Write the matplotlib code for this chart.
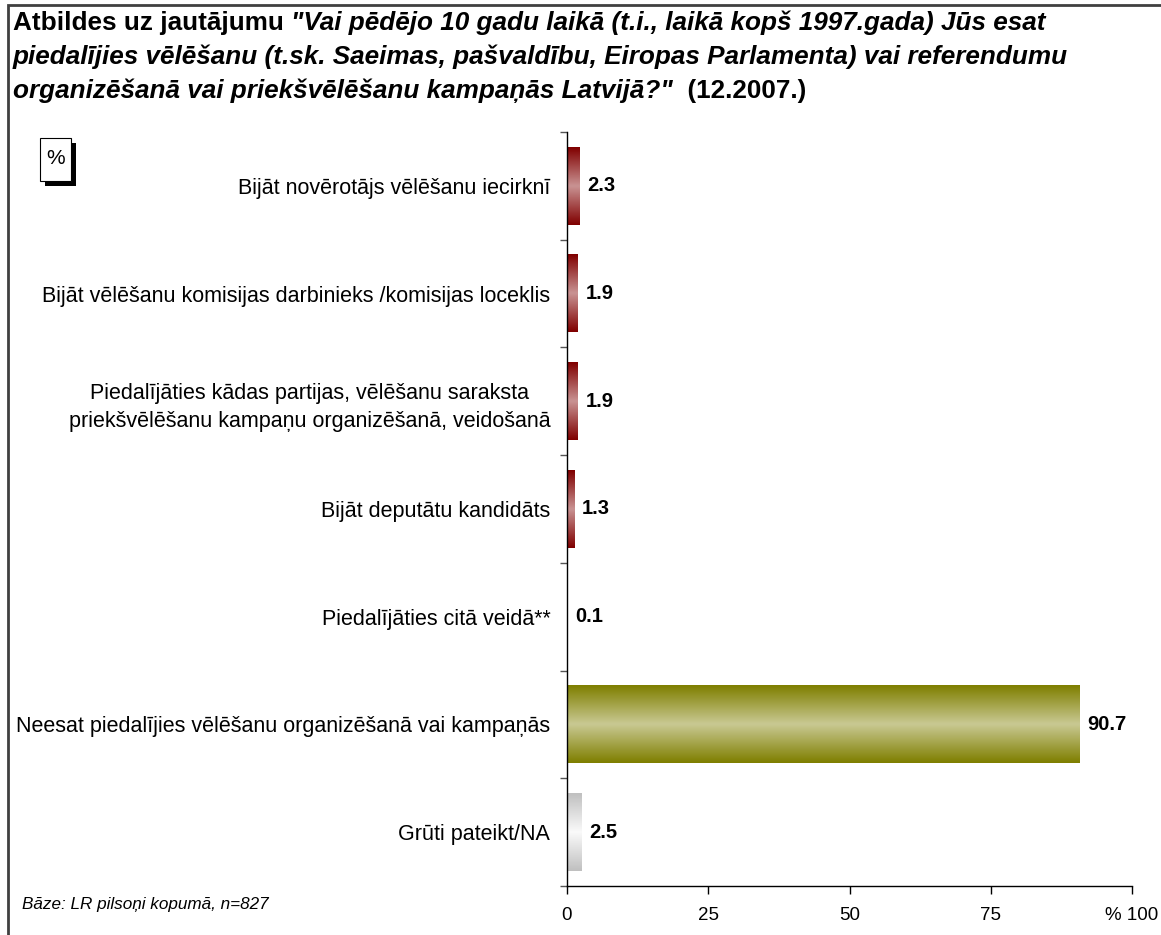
import numpy as np
import matplotlib
matplotlib.use('Agg')
import matplotlib.pyplot as plt
from matplotlib.colors import LinearSegmentedColormap
from matplotlib.patches import Rectangle

W, H = 1161, 935

categories = [
    "Bijāt novērotājs vēlēšanu iecirknī",
    "Bijāt vēlēšanu komisijas darbinieks /komisijas loceklis",
    "Piedalījāties kādas partijas, vēlēšanu saraksta\npriekšvēlēšanu kampaņu organizēšanā, veidošanā",
    "Bijāt deputātu kandidāts",
    "Piedalījāties citā veidā**",
    "Neesat piedalījies vēlēšanu organizēšanā vai kampaņās",
    "Grūti pateikt/NA",
]
values = [2.3, 1.9, 1.9, 1.3, 0.1, 90.7, 2.5]
value_labels = ["2.3", "1.9", "1.9", "1.3", "0.1", "90.7", "2.5"]
x_ticks = [0, 25, 50, 75, 100]
x_ticklabels = ["0", "25", "50", "75", "% 100"]

# edge colour, centre colour of the vertical gradient in each bar
red_grad = ("#800000", "#c99393")
olive_grad = ("#7f7f00", "#c9c993")
grey_grad = ("#c0c0c0", "#fafafa")
bar_grads = [red_grad, red_grad, red_grad, red_grad, red_grad, olive_grad, grey_grad]

plt.rcParams['font.family'] = ['Liberation Sans', 'DejaVu Sans']

fig = plt.figure(figsize=(W / 100, H / 100), dpi=100)

def fx(px):
    return px / W

def fy(py):
    return 1 - py / H

# outer frame (right and bottom edges fall outside the picture)
fig.patches.append(Rectangle((fx(8), fy(H + 20)), fx(W + 20) - fx(8), fy(5) - fy(H + 20),
                             transform=fig.transFigure, fill=False, edgecolor='#404040', linewidth=2))

ax = fig.add_axes([fx(567), fy(886), fx(1132) - fx(567), fy(132) - fy(886)])

ypos = np.arange(len(categories))
bar_h = 0.72
bars = ax.barh(ypos, values, height=bar_h, color='none', edgecolor='none')

for b, (edge, centre) in zip(bars, bar_grads):
    cmap = LinearSegmentedColormap.from_list('g', [edge, centre, edge])
    grad = np.linspace(0, 1, 100).reshape(-1, 1)
    x0, y0 = b.get_x(), b.get_y()
    ax.imshow(grad, cmap=cmap, aspect='auto', interpolation='bicubic',
              extent=(x0, x0 + b.get_width(), y0, y0 + b.get_height()), zorder=2)

for b, lab in zip(bars, value_labels):
    ax.annotate(lab, xy=(b.get_width(), b.get_y() + b.get_height() / 2),
                xytext=(5.5, 0), textcoords='offset points', va='center', ha='left',
                fontsize=14.5, fontweight='bold')

ax.set_xlim(0, 100)
ax.set_ylim(len(categories) - 0.5, -0.5)

ax.set_xticks(x_ticks)
ax.set_xticklabels(x_ticklabels, fontsize=13.5)
ax.tick_params(axis='x', direction='out', length=6, width=1, pad=9)

ax.set_yticks(np.arange(len(categories) + 1) - 0.5)
ax.set_yticklabels([])
ax.set_yticks(ypos, minor=True)
ax.set_yticklabels(categories, minor=True, fontsize=15.5, linespacing=1.45)
for lbl in ax.get_yticklabels(minor=True):
    lbl.set_multialignment('center')
ax.tick_params(axis='y', which='major', direction='out', length=5, width=1, color='#555555')
ax.tick_params(axis='y', which='minor', length=0, pad=12)

for s in ['top', 'right']:
    ax.spines[s].set_visible(False)
for s in ['left', 'bottom']:
    ax.spines[s].set_linewidth(1)

# title, mixed bold / bold italic
renderer = fig.canvas.get_renderer()
title_lines = [
    (30, [("Atbildes uz jautājumu ", 'normal'),
          ("\"Vai pēdējo 10 gadu laikā (t.i., laikā kopš 1997.gada) Jūs esat", 'italic')]),
    (64, [("piedalījies vēlēšanu (t.sk. Saeimas, pašvaldību, Eiropas Parlamenta) vai referendumu", 'italic')]),
    (98, [("organizēšanā vai priekšvēlēšanu kampaņās Latvijā?\"", 'italic'),
          ("  (12.2007.)", 'normal')]),
]
for y_px, pieces in title_lines:
    x_px = 13
    for txt, style in pieces:
        t = fig.text(fx(x_px), fy(y_px), txt, fontsize=18.8, fontweight='bold',
                     fontstyle=style, ha='left', va='baseline')
        x_px += t.get_window_extent(renderer).width

# "%" box with shadow
fig.patches.append(Rectangle((fx(45), fy(186)), fx(31), fy(138) - fy(181),
                             transform=fig.transFigure, facecolor='black', edgecolor='none'))
fig.patches.append(Rectangle((fx(40), fy(181)), fx(31), fy(138) - fy(181),
                             transform=fig.transFigure, facecolor='white', edgecolor='black', linewidth=0.8))
fig.text(fx(55.5), fy(159), "%", fontsize=15, ha='center', va='center')

fig.text(fx(22), fy(905), "Bāze: LR pilsoņi kopumā, n=827", fontsize=12.3, fontstyle='italic',
         ha='left', va='center')

plt.savefig('out.png', dpi=100)
